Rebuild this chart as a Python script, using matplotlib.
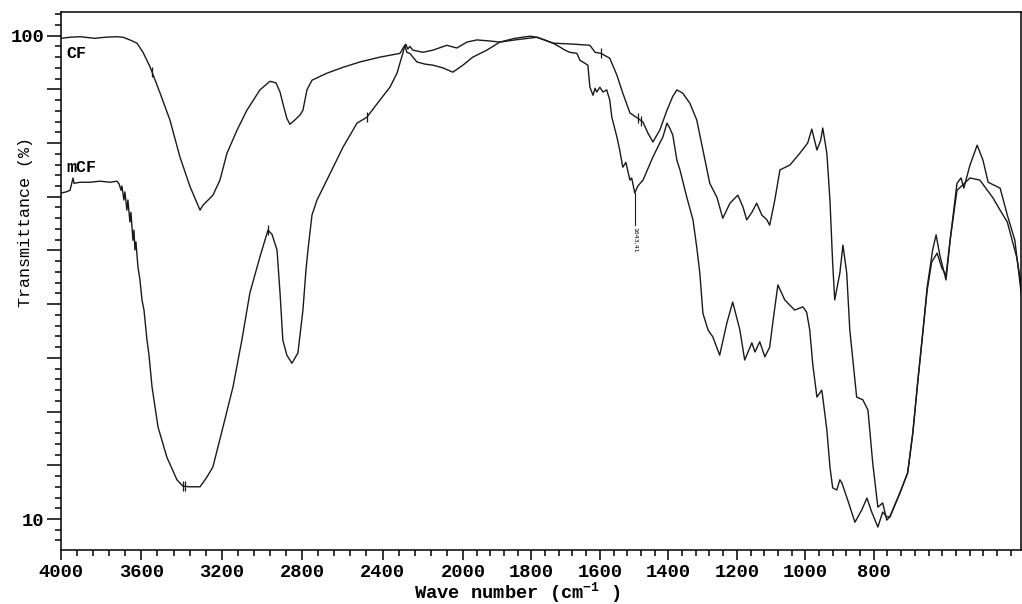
import numpy as np
import matplotlib
matplotlib.use("Agg")
import matplotlib.pyplot as plt

plt.rcParams['font.family'] = ['Liberation Mono', 'DejaVu Sans Mono']
plt.rcParams['mathtext.default'] = 'regular'

# CF spectrum (wavenumber cm-1, transmittance %)
cf_wn = [4000, 3955, 3905, 3831, 3781, 3721, 3692, 3657, 3622, 3592, 3557, 3507, 3458, 3408,
         3358, 3308, 3294, 3244, 3209, 3174, 3124, 3075, 3010, 2960, 2930, 2910, 2896, 2876,
         2861, 2836, 2811, 2796, 2776, 2751, 2677, 2597, 2512, 2413, 2313, 2294, 2284, 2274,
         2264, 2249, 2199, 2149, 2080, 2030, 1988, 1959, 1921, 1892, 1848, 1784, 1737, 1673,
         1629, 1614, 1597, 1571, 1550, 1533, 1512, 1489, 1474, 1460, 1445, 1425, 1404, 1387,
         1375, 1358, 1337, 1317, 1299, 1279, 1258, 1241, 1220, 1197, 1182, 1171, 1156, 1142,
         1127, 1112, 1104, 1089, 1074, 1045, 1016, 993, 981, 966, 955, 949, 937, 928, 920,
         914, 899, 890, 879, 870, 861, 850, 832, 817, 803, 788, 774, 762, 753, 724, 701, 686,
         671, 656, 644, 631, 615, 601, 589, 577, 557, 540, 519, 490, 452, 431, 410, 382, 367]
cf_t = [99.5, 99.7, 99.8, 99.5, 99.7, 99.8, 99.7, 99.2, 98.6, 96.9, 94.2, 89.3, 84.3, 77.4,
        71.9, 67.5, 68.4, 70.3, 73.1, 78.1, 82.4, 86.1, 89.9, 91.5, 91.2, 89.5, 87.4, 84.6,
        83.5, 84.3, 85.2, 86.1, 89.9, 91.7, 93.0, 94.1, 95.1, 96.0, 96.7, 97.9, 98.4, 97.5,
        98.0, 97.3, 96.9, 97.3, 98.2, 97.7, 98.8, 99.2, 99.0, 98.8, 99.2, 99.7, 98.6, 98.4,
        98.2, 96.9, 96.7, 95.8, 92.6, 89.3, 85.6, 84.6, 83.9, 81.9, 80.2, 82.4, 86.1, 88.7,
        89.9, 89.3, 87.4, 84.3, 78.7, 72.5, 69.9, 66.0, 68.8, 70.3, 68.1, 65.7, 67.1, 68.8,
        66.6, 65.7, 64.7, 69.4, 75.0, 75.9, 78.1, 80.0, 82.6, 78.7, 80.5, 82.8, 78.1, 69.4, 57.6,
        50.8, 55.8, 61.0, 55.8, 45.2, 39.6, 32.7, 32.2, 30.3, 20.4, 12.2, 13.0, 9.8, 10.4, 14.8, 18.6, 26.0,
        35.9, 45.2, 52.6, 57.8, 59.5, 56.7, 55.4, 61.9, 71.2, 72.2, 73.5, 73.1, 69.8, 67.5, 65.3, 58.6, 52.6]

# mCF spectrum
mcf_wn = [4000, 3975, 3955, 3945, 3940, 3935, 3905, 3856, 3806, 3756, 3721, 3711, 3701, 3697,
          3687, 3682, 3672, 3667, 3657, 3652, 3642, 3637, 3632, 3627, 3617, 3607, 3597, 3587,
          3572, 3562, 3547, 3517, 3473, 3423, 3393, 3358, 3308, 3274, 3244, 3194, 3144, 3100,
          3060, 3010, 2985, 2970, 2950, 2925, 2910, 2896, 2876, 2851, 2821, 2796, 2781, 2771,
          2751, 2726, 2677, 2597, 2527, 2478, 2413, 2363, 2328, 2299, 2289, 2279, 2264, 2229,
          2189, 2149, 2100, 2050, 2000, 1971, 1930, 1892, 1848, 1804, 1784, 1761, 1737, 1717,
          1702, 1688, 1667, 1658, 1650, 1635, 1629, 1620, 1614, 1609, 1600, 1591, 1580, 1571,
          1565, 1550, 1542, 1533, 1524, 1512, 1507, 1498, 1489, 1474, 1445, 1425, 1416, 1410,
          1404, 1396, 1387, 1375, 1366, 1346, 1328, 1317, 1308, 1299, 1284, 1270, 1250, 1229,
          1212, 1191, 1177, 1156, 1147, 1133, 1118, 1104, 1095, 1080, 1060, 1031, 1007, 996,
          987, 978, 966, 952, 949, 937, 928, 920, 908, 899, 893, 876, 855, 835, 820, 806, 788,
          774, 762, 753, 724, 701, 686, 671, 656, 644, 628, 618, 607, 589, 577, 557, 545, 537,
          519, 498, 481, 466, 431, 410, 388, 367]
mcf_t = [70.7, 70.9, 71.2, 72.7, 73.5, 72.5, 72.7, 72.7, 72.9, 72.7, 72.9, 72.4, 71.2, 72.0,
         69.4, 70.9, 67.5, 69.4, 65.3, 67.1, 61.9, 63.8, 60.1, 61.6, 56.9, 54.5, 50.8, 48.9,
         43.3, 40.5, 34.6, 27.1, 21.5, 17.3, 16.1, 16.0, 16.0, 17.8, 19.7, 27.1, 34.6, 43.3,
         52.1, 58.8, 61.9, 63.8, 63.0, 60.1, 52.1, 43.3, 40.5, 39.0, 40.9, 48.9, 56.3, 60.1,
         66.6, 69.4, 73.1, 79.2, 83.7, 84.8, 88.0, 90.4, 93.0, 96.7, 98.2, 96.9, 96.7, 95.1,
         94.7, 94.5, 94.0, 93.2, 94.5, 96.0, 97.3, 98.8, 99.5, 99.9, 99.7, 99.2, 98.6, 97.9,
         97.3, 96.9, 96.7, 95.4, 95.1, 94.5, 90.4, 88.9, 90.2, 89.5, 90.4, 89.5, 89.9, 88.0,
         84.8, 81.1, 78.7, 75.5, 76.4, 73.1, 73.5, 70.7, 72.0, 73.1, 77.4, 80.0, 81.1, 82.4,
         83.7, 82.8, 81.5, 76.8, 75.0, 69.9, 65.7, 60.6, 55.8, 48.3, 45.2, 43.9, 40.5, 46.5,
         50.4, 45.2, 39.6, 42.8, 41.1, 43.0, 40.2, 42.0, 46.5, 53.6, 50.8, 48.9, 49.5, 48.5,
         45.2, 38.7, 32.7, 34.0, 32.7, 26.6, 19.7, 15.8, 15.4, 17.3, 16.7, 13.5, 9.4, 11.7, 13.9, 11.3, 8.5,
         11.3, 10.4, 10.4, 14.8, 18.6, 26.0, 35.9, 45.2, 53.2, 60.1, 62.9, 59.1, 54.5, 61.9, 72.5, 73.5, 71.6,
         75.9, 79.6, 76.8, 72.7, 71.6, 66.6, 61.9, 50.8]

# peak-pick marks
cf_marks = [3547, 1597, 1489, 1480]
mcf_marks = [3395, 3385, 2970, 2478]
peak_label = "1643,41"
peak_wn = 1498

x_major = [4000, 3600, 3200, 2800, 2400, 2000, 1800, 1600, 1400, 1200, 1000, 800]
y_labels = {100: "100", 10: "10"}

# split wavenumber axis: below 2000 cm-1 is stretched
k = 1.704
def fwd(w):
    w = np.asarray(w, dtype=float)
    return np.where(w >= 2000, 2000 * k + (w - 2000), w * k)

def inv(u):
    u = np.asarray(u, dtype=float)
    return np.where(u >= 2000 * k, u - 2000 * k + 2000, u / k)

fig = plt.figure(figsize=(10.22, 6.04), dpi=100)
ax = fig.add_axes([61 / 1022, 1 - 550 / 604, 960 / 1022, 538 / 604])
ax.set_xscale('function', functions=(fwd, inv))

lc = '#1a1a1a'
ax.plot(cf_wn, cf_t, color=lc, lw=1.0)
ax.plot(mcf_wn, mcf_t, color=lc, lw=1.0)

cf_w = np.array(cf_wn)[::-1]; cf_y = np.array(cf_t)[::-1]
m_w = np.array(mcf_wn)[::-1]; m_y = np.array(mcf_t)[::-1]
ax.plot(cf_marks, np.interp(cf_marks, cf_w, cf_y), ls='none', marker='|', ms=7, color=lc, mew=0.9)
ax.plot(mcf_marks, np.interp(mcf_marks, m_w, m_y), ls='none', marker='|', ms=7, color=lc, mew=0.9)

# peak annotation
pk_t = np.interp(peak_wn, m_w, m_y)
ax.plot([peak_wn, peak_wn], [pk_t, pk_t - 6], color=lc, lw=0.8)
ax.text(peak_wn, pk_t - 6.3, peak_label, rotation=270, fontsize=4.5, ha='center', va='top',
        family='DejaVu Sans')

ax.text(0.006, 0.914, "CF", transform=ax.transAxes, fontsize=12, fontweight='bold')
ax.text(0.006, 0.703, "mCF", transform=ax.transAxes, fontsize=12, fontweight='bold')

ax.set_xlim(4000, 370)
ax.set_ylim(4.23, 104.4)

minor_x = list(np.arange(4000, 2000, -80)) + list(np.arange(2000, 360, -40))
ax.set_xticks(x_major)
ax.set_xticklabels([str(v) for v in x_major])
ax.set_xticks(minor_x, minor=True)

yt = list(range(10, 101, 10))
ax.set_yticks(yt)
ax.set_yticklabels([y_labels.get(v, "") for v in yt])
ax.set_yticks(np.arange(6, 105, 2), minor=True)

ax.tick_params(axis='x', which='major', length=7, width=1.1, pad=3, labelsize=13.5)
ax.tick_params(axis='x', which='minor', length=4, width=1.1)
ax.tick_params(axis='y', which='major', length=10, width=1.1, pad=2, labelsize=13.5)
ax.tick_params(axis='y', which='minor', length=4.5, width=1.1)
for lab in ax.get_xticklabels() + ax.get_yticklabels():
    lab.set_fontweight('bold')
for s in ax.spines.values():
    s.set_linewidth(1.1)

fig.text(517 / 1022, 1 - 593 / 604, "Wave number (cm$^{-1}$ )", ha='center', va='center',
         fontsize=13.5, fontweight='bold')
fig.text(26 / 1022, 1 - 222 / 604, "Transmittance (%)", rotation=90, ha='center', va='center',
         fontsize=12)

plt.savefig("out.png", dpi=100)
